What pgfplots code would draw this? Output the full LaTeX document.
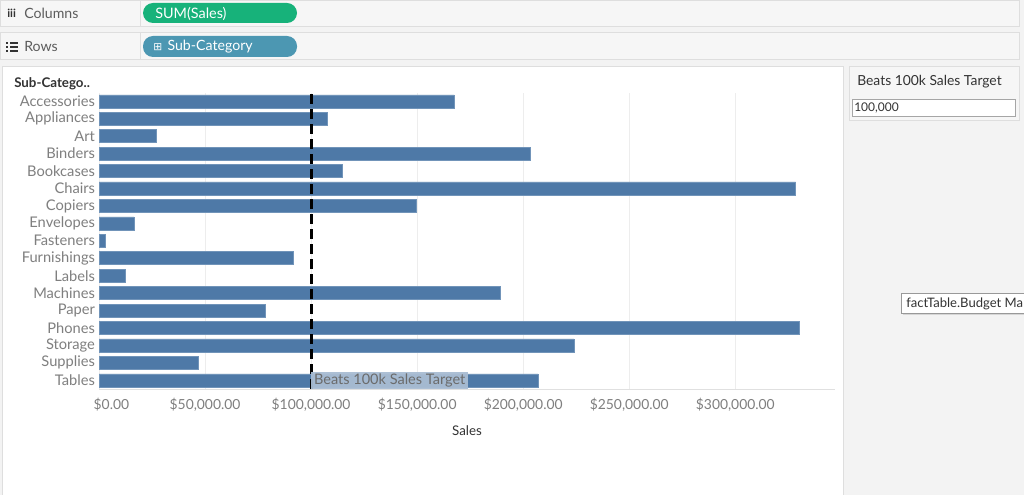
\documentclass[border=0pt]{standalone}
\usepackage{pgfplots}
\usepackage{pgfplotstable}
\pgfplotsset{compat=1.18}
\usepackage{fontspec}
\setmainfont{Lato}
\newfontfamily\dejavu{DejaVu Sans}
\usetikzlibrary{shadows}

\definecolor{barblue}{HTML}{4E79A7}
\definecolor{pillgreen}{HTML}{17B27A}
\definecolor{pillblue}{HTML}{4C97B2}
\definecolor{shelfbg}{HTML}{F6F6F6}
\definecolor{pagebg}{HTML}{F3F3F3}
\definecolor{edge}{HTML}{DEDEDE}
\definecolor{ticktxt}{HTML}{7F7F7F}
\definecolor{darktxt}{HTML}{333333}
\definecolor{reflbl}{HTML}{A9BDD3}

% SUM(Sales) by sub-category, y = row from the bottom
\pgfplotstableread{
y sales
17 167380
16 107532
15 27119
14 203413
13 114880
12 328449
11 149528
10 16476
9 3024
8 91705
7 12486
6 189239
5 78479
4 330007
3 223844
2 46674
1 206966
}\sales

\begin{document}
\begin{tikzpicture}
\path[use as bounding box] (0,0) rectangle (768pt,-371.25pt);
\clip (0,0) rectangle (768pt,-371.25pt);

% screen pixels: 1px = 0.75pt, y downwards
\begin{scope}[x=0.75pt,y=-0.75pt]
\fill[pagebg] (0,0) rectangle (1024,495);

% shelves
\filldraw[fill=shelfbg,draw=edge] (0.5,0.5) rectangle (1019,26);
\filldraw[fill=shelfbg,draw=edge] (0.5,32.5) rectangle (1019,59);
\draw[edge] (140,0.5) -- (140,26);
\draw[edge] (140,32.5) -- (140,59);
\node[anchor=west,inner sep=0,text=darktxt,font=\fontsize{8.5}{9}\selectfont\bfseries] at (7,13) {iii};
\node[anchor=west,inner sep=0,text=darktxt!80,font=\fontsize{10.6}{12}\selectfont] at (24,13.5) {Columns};
\foreach \yy in {42,46,50}{
  \fill[darktxt] (6,\yy) rectangle (8,\yy+1.6);
  \fill[darktxt] (10,\yy) rectangle (18,\yy+1.6);
}
\node[anchor=west,inner sep=0,text=darktxt!80,font=\fontsize{10.6}{12}\selectfont] at (24,46.5) {Rows};
\fill[pillgreen,rounded corners=7.5pt] (143,3) rectangle (297,23);
\node[anchor=west,inner sep=0,text=white,font=\fontsize{10.8}{12}\selectfont] at (155,13.5) {SUM(Sales)};
\fill[pillblue,rounded corners=7.5pt] (143,36) rectangle (297,57);
\node[anchor=west,inner sep=0,text=white,font=\fontsize{10.6}{12}\selectfont] at (153,46.5) {{\dejavu\fontsize{8}{9}\selectfont ⊞}\hspace{4pt}Sub-Category};

% chart panel and parameter card
\filldraw[fill=white,draw=edge] (2,66) rectangle (843,500);
\filldraw[fill=shelfbg,draw=edge] (849,66) rectangle (1019,120);
\node[anchor=west,inner sep=0,text=darktxt,font=\fontsize{10.4}{12}\selectfont] at (857,82) {Beats 100k Sales Target};
\filldraw[fill=white,draw=black!35] (852,99) rectangle (1015,116);
\node[anchor=west,inner sep=0,text=darktxt,font=\fontsize{9}{11}\selectfont] at (854,107.5) {100,000};

\node[anchor=west,inner sep=0,text=darktxt,font=\fontsize{10}{11}\selectfont\bfseries] at (14,84) {Sub-Catego..};
\end{scope}

\begin{axis}[
  at={(74.25pt,-291.75pt)}, anchor=south west,
  scale only axis,
  width=552pt, height=222.3pt,
  xmin=0, xmax=347000,
  ymin=0.5, ymax=17.5,
  xbar,
  bar width=9.75pt,
  axis x line*=bottom,
  axis y line*=left,
  x axis line style={draw=black!12, -},
  y axis line style={draw=none},
  major tick length=0pt,
  xtick={0,50000,100000,150000,200000,250000,300000},
  xticklabels={{\makebox[0pt][l]{\hspace{-4pt}\$0.00}},{\$50,000.00},{\$100,000.00},{\$150,000.00},{\$200,000.00},{\$250,000.00},{\$300,000.00}},
  scaled x ticks=false,
  ytick={1,...,17},
  yticklabels={Tables,Supplies,Storage,Phones,Paper,Machines,Labels,Furnishings,Fasteners,Envelopes,Copiers,Chairs,Bookcases,Binders,Art,Appliances,Accessories},
  xmajorgrids,
  grid style={draw=black!7, line width=0.6pt},
  ticklabel style={text=ticktxt},
  xticklabel style={font=\fontsize{10.4}{12}\selectfont, yshift=-3pt},
  yticklabel style={font=\fontsize{11}{12}\selectfont, xshift=0.5pt},
  xlabel={Sales},
  xlabel style={text=darktxt, font=\fontsize{10}{11}\selectfont, yshift=-4pt},
  clip=false,
]
\addplot[fill=barblue, draw=barblue!80!white, line width=0.4pt] table[x=sales,y=y]{\sales};
\addplot[sharp plot, forget plot, draw=black, fill=none, line width=2.25pt, dash pattern=on 7.5pt off 3.75pt] coordinates {(100000,0.5) (100000,17.5)};
\node[anchor=west, fill=reflbl, fill opacity=0.95, text opacity=1, text=black!58, inner xsep=2pt, inner ysep=1.2pt, minimum height=10.5pt, font=\fontsize{10.9}{12}\selectfont] at (axis cs:100000,1) {Beats 100k Sales Target};
\end{axis}

% tooltip
\begin{scope}[x=0.75pt,y=-0.75pt]
\filldraw[fill=white,draw=black!40,drop shadow={opacity=0.25,shadow xshift=1.5pt,shadow yshift=-1.5pt}] (901,293) rectangle (1040,313);
\node[anchor=west,inner sep=0,text=darktxt,font=\fontsize{9.8}{11}\selectfont] at (906,303.5) {factTable.Budget Ma};
\end{scope}
\end{tikzpicture}
\end{document}
